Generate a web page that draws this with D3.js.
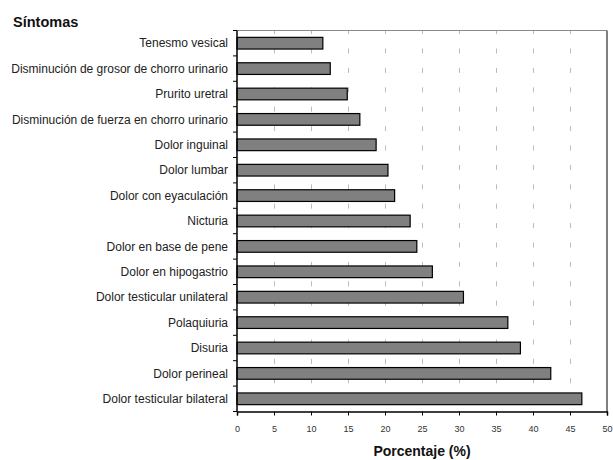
<!DOCTYPE html>
<html>
<head>
<meta charset="utf-8">
<script src="https://cdn.jsdelivr.net/npm/d3@7"></script>
<style>
  html, body { margin: 0; padding: 0; background: #fff; }
  svg { display: block; font-family: "Liberation Sans", Arial, sans-serif; }
</style>
</head>
<body>
<svg id="chart" width="613" height="460"></svg>
<script>
// Symptom categories, top to bottom
const sintomas = [
  "Tenesmo vesical",
  "Disminución de grosor de chorro urinario",
  "Prurito uretral",
  "Disminución de fuerza en chorro urinario",
  "Dolor inguinal",
  "Dolor lumbar",
  "Dolor con eyaculación",
  "Nicturia",
  "Dolor en base de pene",
  "Dolor en hipogastrio",
  "Dolor testicular unilateral",
  "Polaquiuria",
  "Disuria",
  "Dolor perineal",
  "Dolor testicular bilateral"
];

// Percentage of patients reporting each symptom
const porcentajes = [11.6, 12.6, 14.9, 16.6, 18.8, 20.4, 21.3, 23.4, 24.3, 26.4, 30.6, 36.6, 38.3, 42.4, 46.6];

// Horizontal axis ticks
const ticksX = [0, 5, 10, 15, 20, 25, 30, 35, 40, 45, 50];

const svg = d3.select("#chart");
const m = { left: 237, right: 607, top: 30.5, bottom: 411.5 };

const x = d3.scaleLinear().domain([0, 50]).range([m.left, m.right]);
const y = d3.scaleBand().domain(sintomas).range([m.top, m.bottom]).paddingInner(0.54).paddingOuter(0.27);
const yOuter = d3.scaleBand().domain(sintomas).range([m.top, m.bottom]);

// Dashed vertical gridlines
svg.append("g")
  .selectAll("line")
  .data(ticksX.filter(t => t > 0 && t < 50))
  .join("line")
  .attr("x1", d => Math.round(x(d)) + 0.5)
  .attr("x2", d => Math.round(x(d)) + 0.5)
  .attr("y1", m.top)
  .attr("y2", m.bottom)
  .attr("stroke", "#bcbcbc")
  .attr("stroke-width", 1)
  .attr("stroke-dasharray", "5 14.4")
  .attr("stroke-dashoffset", -18);

// Frame: top and right edges
svg.append("line")
  .attr("x1", m.left).attr("x2", m.right)
  .attr("y1", m.top).attr("y2", m.top)
  .attr("stroke", "#8a8a8a").attr("stroke-width", 1);
svg.append("line")
  .attr("x1", m.right).attr("x2", m.right)
  .attr("y1", m.top).attr("y2", m.bottom)
  .attr("stroke", "#555").attr("stroke-width", 1.5);

// Bars
svg.append("g")
  .selectAll("rect")
  .data(sintomas.map((s, i) => ({ s, v: porcentajes[i] })))
  .join("rect")
  .attr("x", x(0))
  .attr("y", d => y(d.s))
  .attr("width", d => x(d.v) - x(0))
  .attr("height", y.bandwidth())
  .attr("fill", "#808080")
  .attr("stroke", "#000")
  .attr("stroke-width", 1.2);

// Left axis: ticks at category boundaries
const yAxis = svg.append("g");
yAxis.append("line")
  .attr("x1", m.left).attr("x2", m.left)
  .attr("y1", m.top).attr("y2", m.bottom)
  .attr("stroke", "#000").attr("stroke-width", 1.5);
yAxis.selectAll("line.tick")
  .data(sintomas.map(s => yOuter(s)).concat([m.bottom]))
  .join("line")
  .attr("class", "tick")
  .attr("x1", m.left - 4).attr("x2", m.left)
  .attr("y1", d => d).attr("y2", d => d)
  .attr("stroke", "#000").attr("stroke-width", 1);
yAxis.selectAll("text")
  .data(sintomas)
  .join("text")
  .attr("x", m.left - 9)
  .attr("y", d => yOuter(d) + yOuter.bandwidth() / 2)
  .attr("dy", "0.35em")
  .attr("text-anchor", "end")
  .attr("font-size", 12)
  .attr("fill", "#222")
  .text(d => d);

// Bottom axis
const xAxis = svg.append("g")
  .attr("transform", `translate(0,${m.bottom})`)
  .call(d3.axisBottom(x).tickValues(ticksX).tickSize(4).tickPadding(10).tickFormat(d3.format("d")));
xAxis.select(".domain").attr("stroke", "#000").attr("stroke-width", 1.5);
xAxis.selectAll(".tick line").attr("stroke", "#000");
xAxis.selectAll(".tick text")
  .attr("font-size", 9)
  .attr("font-family", "Liberation Sans, Arial, sans-serif")
  .attr("fill", "#333");

// Titles
svg.append("text")
  .attr("x", 13).attr("y", 27)
  .attr("font-size", 14.5).attr("font-weight", "bold")
  .attr("fill", "#111")
  .text("Síntomas");

svg.append("text")
  .attr("x", (m.left + m.right) / 2).attr("y", 456)
  .attr("text-anchor", "middle")
  .attr("font-size", 14).attr("font-weight", "bold")
  .attr("fill", "#111")
  .text("Porcentaje (%)");
</script>
</body>
</html>
